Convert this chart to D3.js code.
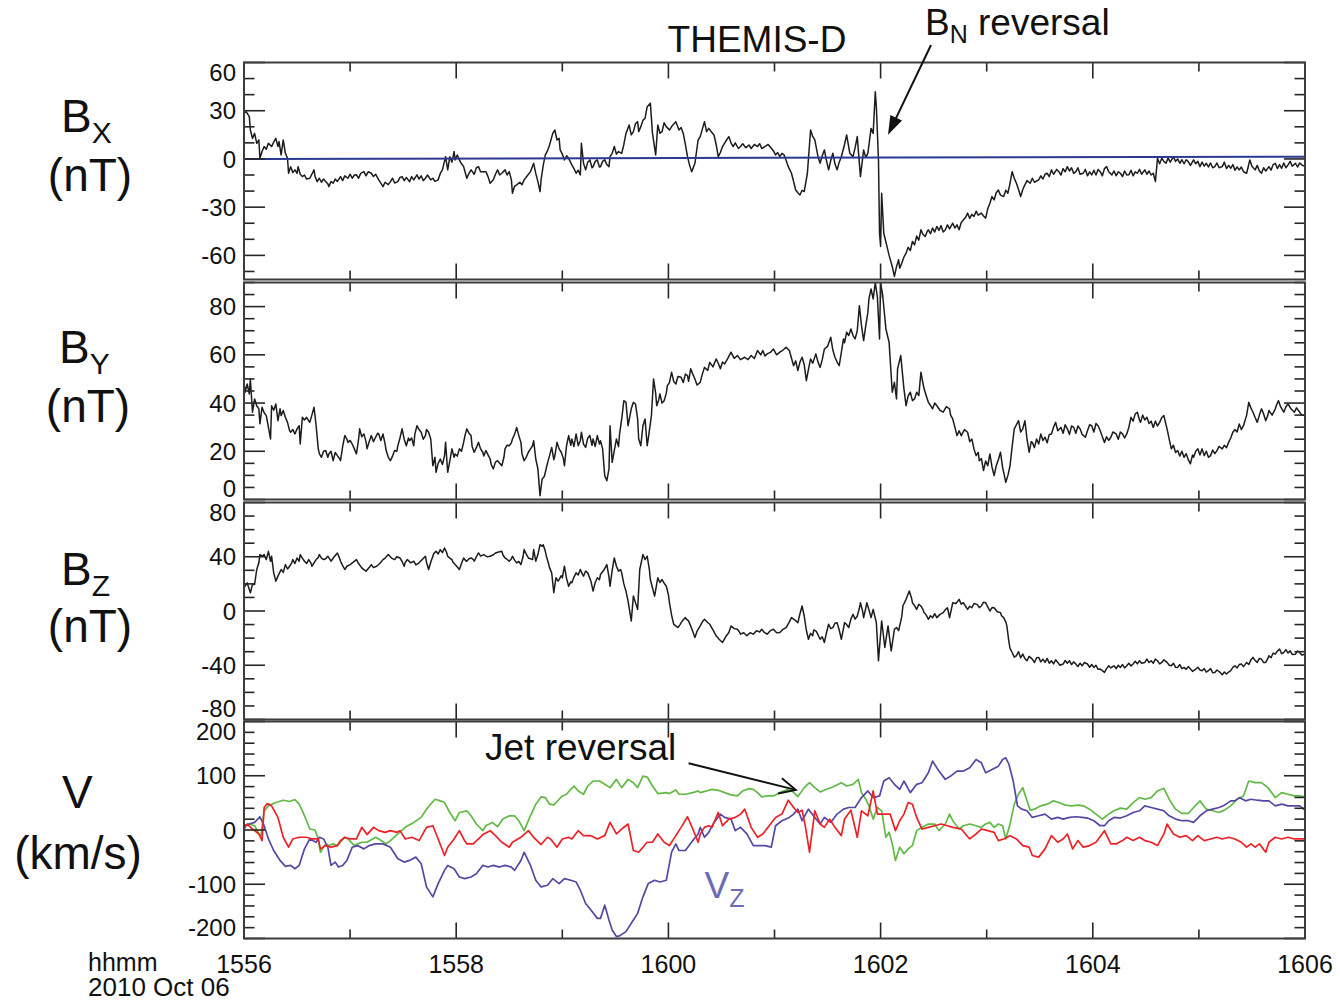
<!DOCTYPE html>
<html><head><meta charset="utf-8">
<script src="https://cdn.jsdelivr.net/npm/d3@7"></script>
<style>
html,body{margin:0;padding:0;background:#fff;}
svg text{font-family:"Liberation Sans",Arial,Helvetica,sans-serif;fill:#111;}
</style></head><body>
<svg id="chart" width="1340" height="1001"></svg>
<script>
// Time in minutes after 15:56 UT on 2010 Oct 06
const timeMajor = [0, 2, 4, 6, 8, 10];
const timeMinor = [1, 3, 5, 7, 9];
const timeLabels = ["1556", "1558", "1600", "1602", "1604", "1606"];

// Magnetic field components (nT), [minute, value]
const bx = [[0.00,28.4],[0.02,29.4],[0.05,26.3],[0.06,18.0],[0.08,12.8],[0.10,15.9],[0.12,9.7],[0.14,11.8],[0.15,0.4],[0.17,4.6],[0.19,7.7],[0.21,6.0],[0.23,9.7],[0.26,7.7],[0.28,10.5],[0.30,12.8],[0.32,7.7],[0.33,10.8],[0.35,2.5],[0.37,11.8],[0.39,3.5],[0.41,0.4],[0.42,-8.9],[0.44,-4.8],[0.46,-8.5],[0.48,-6.8],[0.50,-9.0],[0.51,-4.8],[0.53,-9.5],[0.55,-11.0],[0.57,-10.0],[0.59,-12.5],[0.62,-12.0],[0.64,-9.5],[0.66,-6.8],[0.67,-11.0],[0.69,-14.1],[0.71,-12.0],[0.73,-14.5],[0.75,-12.5],[0.77,-14.1],[0.79,-15.5],[0.80,-17.2],[0.82,-14.0],[0.84,-15.1],[0.86,-12.5],[0.88,-14.0],[0.91,-11.0],[0.93,-13.5],[0.95,-10.5],[0.98,-12.0],[1.00,-9.5],[1.02,-12.0],[1.04,-10.0],[1.06,-9.9],[1.08,-12.0],[1.10,-9.0],[1.13,-7.9],[1.15,-10.5],[1.17,-8.0],[1.20,-8.9],[1.22,-11.0],[1.24,-9.5],[1.27,-13.0],[1.29,-15.0],[1.31,-17.2],[1.33,-14.5],[1.36,-16.0],[1.38,-14.1],[1.40,-12.0],[1.42,-15.0],[1.45,-14.1],[1.47,-11.5],[1.49,-11.0],[1.51,-13.5],[1.53,-11.5],[1.56,-14.1],[1.58,-11.0],[1.60,-13.0],[1.63,-9.9],[1.65,-12.5],[1.67,-10.5],[1.69,-13.5],[1.71,-12.0],[1.73,-10.0],[1.76,-13.0],[1.78,-12.0],[1.80,-14.0],[1.83,-13.0],[1.85,-9.0],[1.87,-6.8],[1.90,1.4],[1.92,-6.8],[1.94,1.4],[1.96,-2.0],[1.98,4.6],[1.99,-0.6],[2.01,2.5],[2.03,-0.6],[2.05,-3.0],[2.07,-4.8],[2.10,-12.0],[2.12,-9.0],[2.14,-6.8],[2.17,-9.5],[2.19,-5.5],[2.21,-4.8],[2.23,-8.0],[2.25,-7.9],[2.28,-7.9],[2.30,-11.0],[2.32,-15.1],[2.35,-13.0],[2.37,-9.5],[2.39,-6.8],[2.41,-10.0],[2.43,-8.9],[2.46,-6.8],[2.48,-10.0],[2.50,-7.9],[2.52,-13.0],[2.53,-21.3],[2.55,-17.0],[2.57,-16.1],[2.60,-14.5],[2.62,-16.0],[2.64,-13.0],[2.67,-10.5],[2.70,-7.9],[2.73,-2.7],[2.75,-9.0],[2.77,-14.1],[2.79,-20.3],[2.80,-13.0],[2.82,-4.0],[2.84,2.5],[2.86,5.0],[2.88,8.7],[2.91,15.9],[2.93,18.0],[2.95,11.8],[2.97,12.8],[2.98,5.6],[3.00,3.0],[3.02,-0.6],[3.04,2.0],[3.06,0.4],[3.09,-3.7],[3.11,-6.0],[3.13,-8.9],[3.15,-7.0],[3.17,-9.9],[3.18,9.7],[3.20,-2.7],[3.22,-6.8],[3.24,-2.0],[3.26,-0.6],[3.28,-5.5],[3.29,-4.8],[3.31,-1.5],[3.33,-0.6],[3.35,-5.0],[3.36,-4.8],[3.38,-1.5],[3.40,-0.6],[3.42,-3.5],[3.44,-4.8],[3.45,1.4],[3.47,3.5],[3.49,7.7],[3.51,3.0],[3.53,4.6],[3.56,3.5],[3.58,9.0],[3.60,15.9],[3.63,21.1],[3.65,15.0],[3.67,17.0],[3.69,22.0],[3.71,23.2],[3.72,17.0],[3.74,20.1],[3.76,24.0],[3.78,25.3],[3.80,32.5],[3.83,34.6],[3.85,15.9],[3.88,2.5],[3.90,21.1],[3.92,16.0],[3.94,17.0],[3.96,22.5],[3.98,20.1],[4.01,18.0],[4.04,21.0],[4.07,23.2],[4.10,18.0],[4.12,19.5],[4.14,15.9],[4.16,9.0],[4.18,1.4],[4.20,-4.0],[4.22,-7.9],[4.25,-2.7],[4.28,11.8],[4.30,13.9],[4.34,23.2],[4.36,17.0],[4.38,19.0],[4.41,16.5],[4.43,14.9],[4.45,9.0],[4.47,1.4],[4.49,4.0],[4.51,7.7],[4.54,11.0],[4.57,13.9],[4.59,10.0],[4.61,7.7],[4.63,10.0],[4.66,6.5],[4.68,7.7],[4.70,9.5],[4.73,7.0],[4.76,8.7],[4.78,6.5],[4.81,9.0],[4.84,7.7],[4.86,9.5],[4.88,6.5],[4.91,7.7],[4.94,9.0],[4.97,6.6],[4.99,5.0],[5.01,2.5],[5.03,4.0],[5.05,1.4],[5.07,3.5],[5.09,2.5],[5.11,-1.0],[5.13,-4.8],[5.16,-8.9],[5.18,-14.0],[5.20,-19.3],[5.22,-21.0],[5.24,-22.4],[5.26,-19.5],[5.28,-20.3],[5.31,-8.9],[5.34,18.0],[5.36,14.0],[5.38,11.8],[5.41,1.4],[5.43,-2.7],[5.45,2.0],[5.47,5.6],[5.49,-1.0],[5.51,-6.8],[5.53,-1.0],[5.55,3.5],[5.57,-3.0],[5.59,-6.8],[5.61,-2.0],[5.63,1.4],[5.66,9.0],[5.68,14.9],[5.71,3.5],[5.74,1.4],[5.76,7.0],[5.78,13.9],[5.81,-11.0],[5.84,5.6],[5.86,1.0],[5.88,3.5],[5.91,19.0],[5.93,15.9],[5.95,41.8],[5.96,32.5],[5.98,-0.6],[5.99,-46.2],[6.00,-54.4],[6.01,-21.3],[6.03,-46.2],[6.06,-54.4],[6.08,-60.0],[6.11,-66.9],[6.13,-73.1],[6.15,-67.0],[6.17,-62.7],[6.18,-68.0],[6.20,-64.8],[6.22,-61.0],[6.24,-58.6],[6.26,-55.0],[6.28,-57.0],[6.30,-51.3],[6.32,-53.5],[6.34,-48.0],[6.36,-50.5],[6.38,-44.1],[6.40,-47.0],[6.42,-48.2],[6.44,-45.0],[6.45,-44.1],[6.47,-46.5],[6.49,-43.0],[6.51,-45.5],[6.53,-42.0],[6.55,-44.5],[6.57,-41.5],[6.59,-45.5],[6.61,-44.1],[6.63,-41.0],[6.65,-43.5],[6.68,-40.0],[6.70,-43.0],[6.72,-41.0],[6.74,-44.1],[6.76,-39.5],[6.78,-38.0],[6.80,-36.5],[6.82,-33.7],[6.84,-37.0],[6.86,-34.5],[6.88,-35.8],[6.90,-32.5],[6.92,-35.0],[6.95,-33.7],[6.97,-35.5],[6.99,-36.8],[7.01,-31.0],[7.03,-27.5],[7.05,-23.4],[7.07,-25.5],[7.09,-21.0],[7.11,-19.3],[7.13,-22.5],[7.16,-23.4],[7.18,-19.5],[7.20,-21.3],[7.22,-15.0],[7.24,-7.9],[7.26,-12.0],[7.28,-15.1],[7.30,-19.0],[7.32,-23.4],[7.34,-19.0],[7.36,-16.1],[7.38,-13.5],[7.41,-15.1],[7.43,-12.0],[7.45,-14.5],[7.49,-13.0],[7.51,-10.5],[7.53,-12.5],[7.55,-9.5],[7.57,-8.9],[7.59,-11.0],[7.61,-6.8],[7.63,-9.5],[7.66,-6.5],[7.68,-7.9],[7.70,-10.0],[7.72,-6.0],[7.74,-8.0],[7.76,-4.8],[7.78,-7.5],[7.80,-5.5],[7.82,-9.0],[7.84,-7.9],[7.86,-5.5],[7.88,-9.5],[7.91,-8.9],[7.93,-6.5],[7.95,-10.5],[7.97,-8.0],[7.99,-9.9],[8.01,-7.0],[8.03,-10.0],[8.05,-6.5],[8.07,-7.9],[8.09,-10.5],[8.11,-6.0],[8.13,-4.8],[8.15,-8.0],[8.18,-9.9],[8.20,-7.5],[8.22,-10.5],[8.24,-8.0],[8.26,-8.9],[8.28,-11.0],[8.30,-7.5],[8.32,-10.0],[8.34,-9.9],[8.36,-7.0],[8.38,-10.5],[8.40,-8.0],[8.42,-8.9],[8.44,-6.5],[8.46,-9.5],[8.49,-6.8],[8.51,-9.5],[8.53,-7.5],[8.55,-10.0],[8.57,-8.9],[8.59,-14.1],[8.61,0.4],[8.63,-3.0],[8.65,0.5],[8.67,-1.5],[8.69,-2.7],[8.71,0.5],[8.73,-2.0],[8.76,1.4],[8.78,-1.5],[8.80,0.0],[8.82,-2.7],[8.84,-0.5],[8.86,-3.0],[8.88,-0.5],[8.90,-1.7],[8.92,-4.0],[8.95,-0.6],[8.97,-3.0],[8.99,-1.5],[9.01,-4.8],[9.03,-2.0],[9.05,-4.5],[9.07,-2.7],[9.09,-5.0],[9.11,-2.5],[9.13,-5.5],[9.15,-4.8],[9.17,-2.5],[9.19,-5.5],[9.22,-4.8],[9.24,-2.0],[9.26,-6.0],[9.28,-4.0],[9.30,-5.8],[9.32,-3.5],[9.34,-7.0],[9.36,-5.0],[9.38,-6.8],[9.40,-5.0],[9.42,-8.0],[9.45,-8.9],[9.48,-0.6],[9.50,-4.5],[9.53,-6.8],[9.55,-4.0],[9.57,-7.5],[9.59,-8.9],[9.61,-5.5],[9.63,-7.5],[9.66,-4.8],[9.68,-7.0],[9.70,-3.5],[9.72,-2.7],[9.74,-6.0],[9.76,-3.5],[9.78,-5.8],[9.80,-2.5],[9.82,-5.5],[9.84,-3.7],[9.86,-1.5],[9.88,-4.5],[9.91,-2.7],[9.93,-5.0],[9.95,-2.5],[9.97,-3.7],[10.00,-4.8]];
const bxBaseline = [[0, 0.0], [10, 1.4]];

const by = [[0.00,48.6],[0.01,44.5],[0.03,47.9],[0.05,43.8],[0.06,50.0],[0.08,36.2],[0.10,41.7],[0.12,38.9],[0.14,37.6],[0.15,31.4],[0.17,38.3],[0.19,36.0],[0.21,34.8],[0.23,30.0],[0.25,25.1],[0.26,38.9],[0.28,37.0],[0.30,39.6],[0.32,32.7],[0.34,37.6],[0.35,34.8],[0.37,36.9],[0.39,34.1],[0.41,32.0],[0.43,28.5],[0.44,27.9],[0.46,29.0],[0.48,27.2],[0.50,29.3],[0.52,30.6],[0.53,23.0],[0.55,34.1],[0.57,33.0],[0.59,34.1],[0.62,32.0],[0.64,35.0],[0.66,38.3],[0.68,30.6],[0.70,21.0],[0.71,19.0],[0.73,17.5],[0.75,20.0],[0.77,20.3],[0.79,17.5],[0.80,18.9],[0.82,20.0],[0.84,16.1],[0.86,19.5],[0.88,18.2],[0.90,17.0],[0.91,16.1],[0.93,22.0],[0.95,26.5],[0.97,25.0],[0.98,23.7],[1.00,24.5],[1.02,23.0],[1.04,21.0],[1.06,18.9],[1.08,25.0],[1.09,29.3],[1.11,26.0],[1.13,27.2],[1.15,24.0],[1.16,21.0],[1.18,24.0],[1.20,26.5],[1.22,24.0],[1.24,25.8],[1.26,27.5],[1.27,27.2],[1.29,24.5],[1.31,27.2],[1.33,23.0],[1.34,20.3],[1.36,17.5],[1.38,16.1],[1.40,18.0],[1.42,20.3],[1.44,20.0],[1.45,22.3],[1.47,25.5],[1.49,29.3],[1.51,25.0],[1.53,22.3],[1.55,25.5],[1.56,24.4],[1.58,25.5],[1.60,22.3],[1.61,27.0],[1.63,30.6],[1.65,29.0],[1.67,27.9],[1.69,25.0],[1.71,26.5],[1.72,29.0],[1.74,27.9],[1.76,25.1],[1.78,14.0],[1.80,17.5],[1.81,11.3],[1.83,15.0],[1.85,16.8],[1.87,14.5],[1.89,18.2],[1.90,23.7],[1.92,11.3],[1.94,16.0],[1.96,21.0],[1.98,17.5],[1.99,18.9],[2.01,18.0],[2.03,21.0],[2.05,20.0],[2.07,23.7],[2.08,26.0],[2.10,29.3],[2.12,27.5],[2.14,26.5],[2.15,22.0],[2.17,19.6],[2.19,21.5],[2.21,23.7],[2.23,21.0],[2.25,19.6],[2.26,18.0],[2.28,20.3],[2.30,18.5],[2.32,16.8],[2.33,14.5],[2.35,12.7],[2.37,15.5],[2.39,16.1],[2.41,15.0],[2.43,14.0],[2.45,17.5],[2.46,21.0],[2.48,22.5],[2.50,22.3],[2.52,23.5],[2.53,25.1],[2.55,27.0],[2.57,29.9],[2.59,26.5],[2.61,23.7],[2.62,19.0],[2.64,16.1],[2.66,17.5],[2.68,19.6],[2.70,21.0],[2.72,22.3],[2.73,24.4],[2.75,16.8],[2.77,12.7],[2.79,1.6],[2.81,8.5],[2.83,9.5],[2.84,11.3],[2.86,15.0],[2.88,18.2],[2.90,21.6],[2.92,16.5],[2.93,18.2],[2.95,23.7],[2.97,21.0],[2.99,19.6],[3.01,17.0],[3.02,14.0],[3.04,22.3],[3.06,26.5],[3.08,22.5],[3.09,25.1],[3.11,22.0],[3.13,27.2],[3.15,22.3],[3.17,24.5],[3.18,27.9],[3.20,23.0],[3.22,21.6],[3.24,25.5],[3.26,26.5],[3.28,22.5],[3.29,25.1],[3.31,22.0],[3.33,26.5],[3.35,23.0],[3.36,24.4],[3.38,21.0],[3.40,9.9],[3.42,7.8],[3.44,12.7],[3.45,30.6],[3.47,15.4],[3.49,20.3],[3.51,25.1],[3.53,22.0],[3.54,27.2],[3.56,33.4],[3.58,41.0],[3.60,40.3],[3.62,30.6],[3.65,37.6],[3.67,40.3],[3.69,39.6],[3.71,33.4],[3.72,25.1],[3.74,22.3],[3.76,30.6],[3.78,33.4],[3.80,22.3],[3.81,25.1],[3.84,34.8],[3.86,50.0],[3.88,44.0],[3.89,38.9],[3.91,41.5],[3.92,43.8],[3.94,40.0],[3.96,41.0],[3.98,44.0],[3.99,47.2],[4.01,48.5],[4.03,52.8],[4.05,49.0],[4.07,47.9],[4.09,51.0],[4.12,50.7],[4.14,48.5],[4.16,52.0],[4.18,51.4],[4.19,49.0],[4.21,54.2],[4.23,52.0],[4.25,50.0],[4.27,47.5],[4.30,48.6],[4.32,52.0],[4.34,54.8],[4.37,53.5],[4.39,56.9],[4.42,55.0],[4.45,58.3],[4.47,56.5],[4.49,54.2],[4.51,57.0],[4.53,56.2],[4.56,58.5],[4.59,61.1],[4.62,58.5],[4.65,59.7],[4.68,58.0],[4.72,59.0],[4.75,58.0],[4.78,59.7],[4.81,58.5],[4.84,61.8],[4.87,60.0],[4.89,61.8],[4.91,59.5],[4.93,60.4],[4.96,61.0],[4.99,62.4],[5.02,60.0],[5.05,61.1],[5.08,62.0],[5.11,63.1],[5.14,61.8],[5.18,55.5],[5.20,57.5],[5.22,53.5],[5.24,57.0],[5.26,59.0],[5.28,56.0],[5.30,49.3],[5.32,54.0],[5.34,58.3],[5.36,56.5],[5.39,60.4],[5.41,57.0],[5.43,54.8],[5.45,58.0],[5.47,62.4],[5.50,63.5],[5.53,67.3],[5.55,62.0],[5.57,59.0],[5.59,57.0],[5.61,55.5],[5.63,61.0],[5.65,66.6],[5.66,65.0],[5.68,69.4],[5.70,68.0],[5.72,70.7],[5.74,68.0],[5.76,66.6],[5.78,70.0],[5.80,80.4],[5.82,72.1],[5.84,65.9],[5.86,72.0],[5.88,77.6],[5.89,83.2],[5.91,87.3],[5.93,83.2],[5.95,90.0],[5.97,83.9],[5.99,66.6],[6.00,90.0],[6.02,84.6],[6.05,70.7],[6.08,65.2],[6.11,44.5],[6.13,48.6],[6.15,41.7],[6.16,54.2],[6.19,59.7],[6.22,45.9],[6.24,38.9],[6.26,43.0],[6.28,44.5],[6.30,41.0],[6.32,41.7],[6.34,44.5],[6.36,43.1],[6.38,52.8],[6.40,48.0],[6.41,45.9],[6.43,43.0],[6.45,40.3],[6.47,39.0],[6.49,37.6],[6.51,40.0],[6.53,38.9],[6.56,37.0],[6.59,36.2],[6.62,38.5],[6.65,37.6],[6.66,35.0],[6.68,33.4],[6.70,30.0],[6.72,26.5],[6.74,28.5],[6.76,26.5],[6.79,29.0],[6.82,27.9],[6.84,24.0],[6.86,25.1],[6.88,21.0],[6.90,18.2],[6.92,19.5],[6.93,16.1],[6.95,17.0],[6.97,12.0],[6.99,16.0],[7.01,14.0],[7.03,18.9],[7.05,13.5],[7.07,9.9],[7.09,14.0],[7.11,16.5],[7.13,19.6],[7.15,13.3],[7.18,7.1],[7.20,10.0],[7.22,14.0],[7.24,22.0],[7.26,29.3],[7.28,31.0],[7.30,32.7],[7.32,28.0],[7.34,29.3],[7.36,32.7],[7.38,25.0],[7.40,19.6],[7.42,24.0],[7.43,23.7],[7.45,21.5],[7.47,25.1],[7.49,23.0],[7.51,27.2],[7.53,24.5],[7.55,25.8],[7.57,23.5],[7.59,27.0],[7.61,27.2],[7.63,30.0],[7.65,32.0],[7.67,28.5],[7.70,29.9],[7.72,27.5],[7.74,31.0],[7.76,29.3],[7.78,27.0],[7.80,30.5],[7.82,29.9],[7.84,27.5],[7.86,30.5],[7.88,29.3],[7.90,27.0],[7.93,25.8],[7.95,28.5],[7.97,31.0],[7.99,30.6],[8.01,28.0],[8.03,31.5],[8.05,30.6],[8.07,28.5],[8.09,26.0],[8.11,23.7],[8.13,26.0],[8.15,24.5],[8.17,25.8],[8.19,28.0],[8.22,27.2],[8.24,25.0],[8.26,28.0],[8.28,27.2],[8.30,25.5],[8.32,27.2],[8.34,30.0],[8.36,34.1],[8.38,32.5],[8.40,35.5],[8.42,36.2],[8.44,33.0],[8.45,32.0],[8.47,35.0],[8.49,33.0],[8.51,34.1],[8.53,31.5],[8.55,32.5],[8.57,29.9],[8.59,32.5],[8.61,30.5],[8.63,32.0],[8.65,34.0],[8.67,34.8],[8.69,31.0],[8.70,29.3],[8.72,25.0],[8.74,21.0],[8.76,22.5],[8.78,19.5],[8.80,20.3],[8.82,18.0],[8.84,20.0],[8.86,17.5],[8.88,19.0],[8.90,16.5],[8.92,14.8],[8.94,18.5],[8.95,17.5],[8.97,20.0],[8.99,21.0],[9.01,18.5],[9.03,21.0],[9.05,18.2],[9.07,20.0],[9.09,17.5],[9.11,18.2],[9.13,20.5],[9.15,19.0],[9.17,20.3],[9.19,22.0],[9.22,21.0],[9.24,22.5],[9.26,21.5],[9.28,23.7],[9.30,25.5],[9.32,27.9],[9.34,29.0],[9.36,28.0],[9.38,31.3],[9.40,29.0],[9.42,30.6],[9.45,35.0],[9.47,40.3],[9.49,38.0],[9.51,36.2],[9.53,34.0],[9.55,32.0],[9.57,35.0],[9.59,37.6],[9.61,35.5],[9.63,32.7],[9.65,35.0],[9.66,36.9],[9.69,35.0],[9.72,37.6],[9.73,39.0],[9.75,41.0],[9.77,38.5],[9.80,36.2],[9.82,38.5],[9.84,39.6],[9.87,37.5],[9.90,36.2],[9.92,38.0],[9.95,36.2],[9.97,35.0],[10.00,34.8]];

const bz = [[0.00,20.8],[0.01,18.3],[0.03,20.8],[0.05,15.9],[0.06,13.5],[0.08,19.6],[0.10,19.6],[0.12,30.6],[0.14,35.5],[0.15,41.6],[0.17,40.4],[0.19,41.6],[0.21,37.9],[0.23,44.0],[0.25,36.7],[0.26,40.4],[0.28,28.1],[0.30,22.0],[0.32,25.7],[0.35,30.6],[0.37,28.5],[0.39,34.2],[0.41,31.0],[0.43,33.0],[0.45,35.5],[0.46,37.9],[0.48,35.0],[0.50,39.1],[0.52,36.7],[0.53,41.6],[0.55,39.0],[0.57,36.7],[0.59,35.0],[0.61,37.9],[0.63,35.5],[0.64,33.0],[0.66,35.5],[0.68,37.9],[0.70,39.5],[0.71,41.6],[0.73,39.0],[0.75,37.9],[0.77,38.5],[0.79,40.4],[0.81,38.0],[0.82,36.7],[0.85,40.0],[0.88,42.8],[0.90,39.0],[0.91,36.7],[0.93,33.5],[0.95,30.6],[0.97,33.0],[1.00,34.2],[1.03,36.0],[1.06,37.9],[1.08,35.0],[1.11,31.8],[1.13,30.5],[1.15,29.4],[1.18,32.0],[1.20,34.2],[1.22,32.0],[1.25,33.0],[1.28,35.0],[1.31,37.9],[1.33,39.0],[1.36,41.6],[1.39,39.0],[1.42,37.9],[1.44,40.0],[1.47,39.1],[1.49,36.5],[1.51,33.0],[1.52,36.0],[1.54,37.9],[1.57,35.5],[1.60,36.7],[1.62,34.0],[1.65,35.5],[1.68,38.0],[1.71,40.4],[1.72,36.0],[1.74,30.6],[1.76,36.0],[1.78,40.4],[1.79,42.5],[1.81,44.0],[1.83,42.0],[1.85,45.3],[1.87,43.0],[1.89,46.5],[1.91,43.0],[1.92,40.4],[1.94,39.0],[1.96,37.9],[1.97,36.0],[1.99,34.2],[2.01,32.5],[2.03,30.6],[2.05,35.0],[2.07,39.1],[2.09,37.0],[2.10,36.7],[2.12,38.5],[2.14,39.1],[2.16,38.0],[2.17,36.7],[2.19,40.0],[2.21,42.8],[2.23,40.5],[2.26,41.6],[2.29,40.0],[2.32,40.4],[2.35,41.5],[2.37,42.8],[2.40,43.5],[2.43,44.0],[2.44,41.5],[2.46,39.1],[2.48,38.0],[2.50,36.7],[2.52,38.5],[2.53,40.4],[2.55,37.5],[2.57,35.5],[2.59,36.5],[2.61,34.2],[2.63,40.0],[2.64,45.3],[2.66,42.0],[2.68,39.1],[2.70,38.5],[2.72,37.9],[2.73,45.3],[2.75,36.7],[2.77,41.6],[2.79,48.9],[2.81,47.7],[2.82,48.9],[2.84,44.0],[2.85,40.4],[2.87,35.0],[2.88,31.8],[2.90,28.1],[2.92,13.5],[2.94,24.5],[2.96,22.0],[2.97,23.2],[2.99,26.0],[3.00,24.5],[3.02,33.0],[3.04,24.0],[3.06,18.3],[3.08,21.5],[3.09,20.8],[3.11,25.0],[3.13,28.1],[3.15,26.5],[3.17,30.6],[3.19,27.0],[3.20,25.7],[3.22,29.5],[3.24,28.1],[3.26,24.0],[3.27,22.0],[3.29,14.7],[3.31,21.0],[3.33,24.5],[3.35,23.0],[3.36,26.9],[3.39,30.0],[3.42,34.2],[3.44,25.0],[3.45,18.3],[3.47,30.0],[3.49,39.1],[3.51,33.0],[3.53,29.4],[3.55,30.5],[3.56,28.1],[3.58,20.0],[3.60,14.7],[3.62,7.3],[3.65,-7.3],[3.67,11.0],[3.69,6.0],[3.71,1.2],[3.73,30.6],[3.76,41.6],[3.78,37.9],[3.80,40.4],[3.82,31.0],[3.83,23.2],[3.85,17.0],[3.87,11.0],[3.89,20.0],[3.90,24.5],[3.92,21.0],[3.94,23.2],[3.96,20.5],[3.98,18.3],[4.00,12.0],[4.01,6.1],[4.03,-3.0],[4.05,-9.8],[4.07,-11.0],[4.09,-12.2],[4.11,-10.0],[4.12,-8.6],[4.14,-6.5],[4.16,-4.9],[4.17,-6.0],[4.19,-7.3],[4.22,-13.0],[4.25,-19.6],[4.27,-15.0],[4.28,-13.5],[4.30,-11.0],[4.32,-8.0],[4.34,-6.1],[4.37,-8.5],[4.39,-9.8],[4.42,-14.0],[4.45,-18.3],[4.48,-21.0],[4.51,-23.2],[4.54,-19.0],[4.57,-15.9],[4.59,-11.0],[4.62,-13.0],[4.65,-13.5],[4.67,-15.5],[4.68,-17.1],[4.71,-16.0],[4.74,-18.3],[4.77,-16.0],[4.80,-17.1],[4.83,-14.5],[4.86,-15.5],[4.88,-13.5],[4.90,-15.5],[4.93,-17.1],[4.96,-14.5],[4.99,-13.5],[5.02,-16.0],[5.05,-15.9],[5.08,-13.5],[5.11,-12.2],[5.14,-8.0],[5.16,-4.9],[5.19,-6.5],[5.22,-8.6],[5.24,-2.0],[5.26,3.7],[5.28,-3.7],[5.30,-14.0],[5.32,-20.8],[5.34,-16.5],[5.36,-18.3],[5.37,-14.0],[5.39,-14.7],[5.41,-17.5],[5.43,-20.8],[5.45,-19.0],[5.47,-23.2],[5.49,-16.0],[5.51,-9.8],[5.53,-13.0],[5.55,-12.2],[5.57,-9.0],[5.59,-8.6],[5.61,-14.0],[5.63,-20.8],[5.65,-13.0],[5.66,-8.6],[5.68,-10.0],[5.70,-12.2],[5.72,-6.0],[5.74,-2.4],[5.76,-6.0],[5.78,-3.7],[5.80,2.0],[5.81,6.1],[5.83,0.0],[5.84,-4.9],[5.86,2.0],[5.87,6.1],[5.89,1.0],[5.91,-4.9],[5.93,1.2],[5.96,-8.6],[5.98,-36.7],[6.01,-7.3],[6.04,-26.9],[6.07,-11.0],[6.10,-29.4],[6.13,-13.5],[6.15,-12.2],[6.17,-14.5],[6.18,-11.0],[6.20,-4.0],[6.21,3.7],[6.24,8.6],[6.27,14.7],[6.29,10.0],[6.30,6.1],[6.32,4.0],[6.34,1.2],[6.36,5.0],[6.38,3.7],[6.40,1.0],[6.41,-1.2],[6.43,-3.0],[6.45,-6.1],[6.47,-3.5],[6.49,-4.9],[6.51,-2.0],[6.53,-4.9],[6.56,-2.5],[6.59,-1.2],[6.61,1.0],[6.63,2.4],[6.65,-4.9],[6.68,6.1],[6.71,5.5],[6.74,8.6],[6.76,5.0],[6.78,6.1],[6.80,3.5],[6.82,1.2],[6.84,3.5],[6.86,2.4],[6.88,5.5],[6.91,4.9],[6.93,2.5],[6.95,3.7],[6.97,6.5],[6.99,6.1],[7.01,3.0],[7.03,0.0],[7.05,2.5],[7.07,2.4],[7.10,-0.5],[7.13,-1.2],[7.14,-3.5],[7.16,-4.9],[7.18,-8.0],[7.19,-11.0],[7.21,-23.2],[7.22,-27.5],[7.24,-30.6],[7.26,-34.0],[7.28,-33.0],[7.30,-30.0],[7.32,-34.5],[7.34,-31.8],[7.36,-35.0],[7.38,-36.7],[7.40,-33.5],[7.43,-35.5],[7.45,-38.0],[7.47,-34.5],[7.49,-34.2],[7.51,-37.5],[7.53,-35.5],[7.55,-37.9],[7.57,-35.0],[7.59,-38.5],[7.61,-36.7],[7.63,-39.0],[7.65,-36.0],[7.67,-37.9],[7.69,-40.0],[7.72,-39.1],[7.74,-36.5],[7.76,-38.5],[7.78,-36.7],[7.80,-39.5],[7.82,-37.5],[7.84,-39.1],[7.86,-41.0],[7.88,-38.5],[7.90,-40.4],[7.92,-38.0],[7.95,-39.1],[7.97,-41.5],[7.99,-39.5],[8.01,-41.6],[8.03,-40.0],[8.05,-43.0],[8.07,-42.8],[8.09,-44.0],[8.11,-45.3],[8.13,-42.5],[8.15,-40.4],[8.17,-42.0],[8.20,-40.4],[8.22,-42.5],[8.24,-40.0],[8.26,-41.6],[8.28,-39.5],[8.30,-42.0],[8.32,-40.4],[8.34,-38.5],[8.36,-40.5],[8.38,-39.1],[8.40,-37.0],[8.42,-39.0],[8.44,-36.7],[8.46,-38.5],[8.49,-37.9],[8.51,-35.5],[8.53,-38.0],[8.55,-36.7],[8.57,-38.5],[8.59,-35.5],[8.61,-36.7],[8.63,-39.0],[8.65,-37.9],[8.67,-36.0],[8.70,-37.9],[8.72,-40.0],[8.74,-40.4],[8.76,-38.5],[8.78,-41.5],[8.80,-41.6],[8.82,-39.5],[8.84,-42.5],[8.86,-41.6],[8.88,-43.0],[8.90,-41.0],[8.92,-42.8],[8.94,-44.5],[8.97,-42.8],[8.99,-41.5],[9.01,-43.5],[9.03,-44.0],[9.05,-42.5],[9.07,-45.0],[9.09,-44.0],[9.11,-42.5],[9.13,-45.5],[9.15,-45.3],[9.17,-43.5],[9.20,-45.3],[9.22,-47.0],[9.24,-45.0],[9.26,-46.5],[9.28,-45.0],[9.30,-44.0],[9.32,-41.5],[9.34,-40.4],[9.36,-42.0],[9.38,-39.5],[9.40,-39.1],[9.42,-41.0],[9.45,-37.9],[9.47,-39.5],[9.49,-36.0],[9.51,-34.2],[9.53,-36.5],[9.55,-37.9],[9.57,-35.0],[9.59,-35.5],[9.61,-38.0],[9.63,-37.9],[9.65,-35.0],[9.66,-33.0],[9.68,-34.5],[9.70,-31.0],[9.72,-31.8],[9.74,-29.5],[9.76,-28.1],[9.78,-31.5],[9.80,-30.6],[9.82,-28.5],[9.84,-31.0],[9.86,-29.4],[9.88,-32.0],[9.91,-31.8],[9.93,-29.5],[9.95,-30.6],[9.97,-32.5],[10.00,-31.8]];

// Ion velocity components (km/s), [minute, value]
const vx = [[0.00,7.9],[0.05,11.0],[0.10,7.9],[0.14,-7.3],[0.16,-10.4],[0.19,35.0],[0.23,44.5],[0.30,50.6],[0.37,54.9],[0.43,52.5],[0.48,56.1],[0.52,47.6],[0.55,35.4],[0.59,17.1],[0.62,1.8],[0.67,0.0],[0.70,-16.5],[0.72,-40.9],[0.77,-25.6],[0.80,-28.7],[0.84,-25.6],[0.88,-28.7],[0.95,-13.4],[0.98,-16.5],[1.04,-28.7],[1.07,-25.6],[1.11,-22.6],[1.16,-22.6],[1.24,-13.4],[1.27,-16.5],[1.34,-25.6],[1.38,-19.5],[1.45,-7.3],[1.52,4.9],[1.60,14.0],[1.67,23.2],[1.72,38.4],[1.80,56.7],[1.85,53.7],[1.89,50.6],[1.94,32.3],[1.99,17.1],[2.03,32.3],[2.10,35.4],[2.14,26.2],[2.19,11.0],[2.25,-1.2],[2.28,7.9],[2.34,14.0],[2.39,6.1],[2.44,20.1],[2.50,26.2],[2.55,26.2],[2.59,17.1],[2.64,-1.2],[2.70,26.2],[2.75,47.6],[2.80,61.0],[2.84,59.8],[2.88,47.6],[2.92,46.4],[2.97,56.7],[3.00,62.8],[3.04,65.9],[3.08,75.0],[3.11,81.1],[3.15,72.0],[3.20,65.9],[3.24,81.1],[3.29,90.3],[3.35,90.3],[3.40,84.2],[3.45,78.1],[3.51,93.3],[3.56,78.1],[3.62,93.3],[3.67,87.2],[3.71,78.1],[3.76,99.4],[3.80,97.6],[3.85,81.1],[3.90,67.1],[3.98,68.9],[4.01,67.1],[4.07,73.8],[4.10,65.9],[4.16,65.9],[4.23,68.9],[4.28,72.0],[4.30,68.9],[4.36,72.0],[4.41,75.0],[4.47,73.2],[4.53,68.9],[4.59,64.7],[4.65,62.8],[4.70,72.0],[4.76,76.3],[4.80,75.0],[4.84,68.9],[4.88,61.0],[4.93,62.8],[4.99,62.8],[5.05,68.9],[5.11,73.8],[5.16,73.2],[5.22,61.6],[5.28,78.1],[5.33,87.2],[5.38,78.1],[5.43,70.2],[5.49,75.0],[5.55,79.3],[5.63,87.2],[5.68,81.1],[5.74,84.2],[5.79,93.3],[5.82,68.9],[5.86,56.7],[5.89,44.5],[5.93,20.1],[5.97,41.5],[6.01,35.4],[6.05,-13.4],[6.08,-4.3],[6.11,-25.6],[6.14,-56.1],[6.18,-31.7],[6.22,-43.9],[6.26,-34.8],[6.30,-28.7],[6.34,-1.2],[6.39,4.9],[6.45,11.0],[6.51,11.0],[6.55,-1.2],[6.61,11.0],[6.65,29.3],[6.68,17.1],[6.74,1.8],[6.78,7.9],[6.84,11.0],[6.90,7.9],[6.95,4.9],[6.99,11.0],[7.03,14.0],[7.07,4.9],[7.11,11.0],[7.15,7.9],[7.18,-16.5],[7.22,11.0],[7.26,47.6],[7.30,65.9],[7.34,78.1],[7.37,59.8],[7.41,36.6],[7.45,38.4],[7.51,44.5],[7.57,47.6],[7.63,53.7],[7.68,50.6],[7.74,45.8],[7.80,44.5],[7.86,45.8],[7.91,44.5],[7.97,38.4],[8.03,29.3],[8.09,20.1],[8.15,29.3],[8.20,35.4],[8.26,40.3],[8.32,38.4],[8.38,50.6],[8.44,59.8],[8.49,56.7],[8.55,59.8],[8.61,72.0],[8.67,76.9],[8.72,56.7],[8.78,38.4],[8.84,30.5],[8.90,30.5],[8.95,41.5],[9.01,53.7],[9.07,38.4],[9.13,35.4],[9.19,32.3],[9.24,36.6],[9.30,44.5],[9.36,56.7],[9.42,62.8],[9.47,90.3],[9.53,87.2],[9.59,87.2],[9.65,78.1],[9.72,59.8],[9.78,68.9],[9.84,65.9],[9.90,62.8],[9.95,62.8],[10.00,61.0]];

const vy = [[0.00,1.8],[0.03,11.0],[0.08,1.8],[0.14,-7.3],[0.17,-19.5],[0.19,41.5],[0.22,48.8],[0.26,44.5],[0.32,23.2],[0.37,-13.4],[0.42,-31.7],[0.46,-16.5],[0.52,-13.4],[0.59,-13.4],[0.64,-16.5],[0.70,-16.5],[0.72,-34.8],[0.77,-28.7],[0.82,-31.7],[0.88,-28.7],[0.91,-19.5],[0.95,-13.4],[1.00,-16.5],[1.06,-16.5],[1.11,4.9],[1.16,-8.5],[1.22,4.9],[1.27,-1.2],[1.33,-4.3],[1.38,-1.2],[1.44,-4.3],[1.47,-1.2],[1.52,-16.5],[1.58,-13.4],[1.65,-19.5],[1.72,4.9],[1.78,7.9],[1.83,-16.5],[1.89,-47.0],[1.92,-31.7],[1.98,-16.5],[2.03,-1.2],[2.07,-16.5],[2.10,-25.6],[2.16,-25.6],[2.21,-16.5],[2.26,-7.3],[2.32,-1.2],[2.37,-10.4],[2.43,-22.6],[2.50,-31.7],[2.53,-22.6],[2.61,-13.4],[2.68,-1.2],[2.73,-13.4],[2.80,-26.8],[2.86,-13.4],[2.89,-16.5],[2.95,-31.7],[3.00,-16.5],[3.06,-13.4],[3.09,-16.5],[3.15,-1.2],[3.20,-10.4],[3.27,-10.4],[3.33,-16.5],[3.40,-10.4],[3.45,14.0],[3.51,-7.3],[3.56,1.8],[3.62,11.0],[3.67,-37.8],[3.72,-40.9],[3.80,-22.6],[3.85,-22.6],[3.90,-7.3],[3.96,-22.6],[4.01,-28.7],[4.07,-10.4],[4.12,4.9],[4.18,24.4],[4.23,1.8],[4.28,-22.6],[4.30,-7.3],[4.34,4.9],[4.38,7.9],[4.41,4.9],[4.47,32.3],[4.51,7.9],[4.57,20.1],[4.63,23.2],[4.68,29.3],[4.72,38.4],[4.78,4.9],[4.84,-13.4],[4.89,-7.3],[4.95,7.9],[5.01,23.2],[5.07,29.3],[5.13,54.9],[5.18,41.5],[5.22,32.3],[5.26,36.6],[5.29,7.9],[5.33,-40.9],[5.38,35.4],[5.43,11.0],[5.47,4.9],[5.52,20.1],[5.57,4.9],[5.63,-10.4],[5.66,20.1],[5.72,36.6],[5.78,-13.4],[5.82,35.4],[5.88,26.2],[5.93,72.0],[5.97,29.3],[6.03,29.3],[6.09,29.3],[6.14,-1.2],[6.18,17.1],[6.22,29.3],[6.26,50.6],[6.30,47.6],[6.34,23.2],[6.39,1.8],[6.45,4.9],[6.51,7.9],[6.57,11.0],[6.63,7.9],[6.68,4.9],[6.76,1.8],[6.84,-16.5],[6.90,-7.3],[6.95,1.8],[7.01,-1.2],[7.07,-4.3],[7.11,-19.5],[7.16,-16.5],[7.22,-10.4],[7.28,-16.5],[7.34,-28.7],[7.40,-31.7],[7.43,-47.0],[7.49,-50.0],[7.55,-34.8],[7.61,-10.4],[7.67,-22.6],[7.72,-16.5],[7.76,-7.3],[7.81,-34.8],[7.86,-19.5],[7.91,-31.7],[7.97,-28.7],[8.03,-22.6],[8.11,-1.2],[8.17,-25.6],[8.22,-25.6],[8.28,-19.5],[8.32,-13.4],[8.38,-19.5],[8.44,-13.4],[8.49,-19.5],[8.55,-22.6],[8.61,-28.7],[8.67,-7.3],[8.70,11.0],[8.76,-7.3],[8.82,-13.4],[8.88,-10.4],[8.94,-19.5],[8.99,-10.4],[9.05,-19.5],[9.11,-16.5],[9.17,-13.4],[9.22,-16.5],[9.28,-13.4],[9.34,-16.5],[9.40,-22.6],[9.45,-31.7],[9.49,-25.6],[9.53,-31.7],[9.57,-25.6],[9.63,-40.9],[9.66,-22.6],[9.72,-13.4],[9.78,-16.5],[9.84,-13.4],[9.90,-16.5],[9.95,-16.5],[10.00,-16.5]];

const vz = [[0.00,7.9],[0.05,11.0],[0.10,14.0],[0.15,24.4],[0.19,7.9],[0.23,-16.5],[0.28,-37.8],[0.34,-56.1],[0.39,-67.1],[0.44,-65.3],[0.48,-71.4],[0.52,-65.3],[0.57,-34.8],[0.62,-16.5],[0.68,-22.6],[0.71,-13.4],[0.75,-16.5],[0.79,-31.7],[0.82,-65.3],[0.86,-59.2],[0.89,-68.3],[0.93,-65.3],[0.97,-56.1],[1.02,-31.7],[1.07,-28.7],[1.13,-34.8],[1.18,-28.7],[1.24,-25.6],[1.31,-25.6],[1.38,-31.7],[1.45,-53.1],[1.51,-59.2],[1.56,-56.1],[1.62,-50.0],[1.67,-62.2],[1.72,-104.9],[1.78,-123.2],[1.83,-98.8],[1.89,-74.4],[1.92,-65.3],[1.98,-71.4],[2.03,-86.6],[2.08,-89.7],[2.14,-86.6],[2.19,-80.5],[2.25,-65.3],[2.30,-68.3],[2.35,-65.3],[2.41,-68.3],[2.46,-65.3],[2.52,-68.3],[2.55,-74.4],[2.61,-56.1],[2.64,-40.9],[2.70,-65.3],[2.75,-92.7],[2.80,-104.9],[2.86,-101.9],[2.91,-89.7],[2.97,-98.8],[3.02,-89.7],[3.08,-92.7],[3.13,-95.8],[3.17,-111.0],[3.22,-135.4],[3.27,-147.6],[3.33,-162.9],[3.36,-162.9],[3.40,-138.5],[3.44,-165.9],[3.47,-184.2],[3.51,-196.4],[3.54,-195.2],[3.60,-187.3],[3.65,-172.0],[3.71,-153.7],[3.76,-123.2],[3.81,-98.8],[3.87,-92.7],[3.92,-95.8],[3.98,-92.7],[4.03,-40.9],[4.07,-25.6],[4.10,-37.8],[4.16,-37.8],[4.23,-19.5],[4.28,-7.3],[4.30,4.9],[4.34,-13.4],[4.38,-4.3],[4.43,14.0],[4.49,29.3],[4.53,23.2],[4.59,20.1],[4.63,-1.2],[4.68,4.9],[4.74,-7.3],[4.80,-28.7],[4.86,-28.7],[4.91,-28.7],[4.97,-31.7],[5.01,7.9],[5.07,17.1],[5.14,23.2],[5.18,29.3],[5.22,38.4],[5.26,17.1],[5.32,38.4],[5.38,23.2],[5.43,11.0],[5.47,23.2],[5.53,14.0],[5.59,29.3],[5.65,38.4],[5.70,41.5],[5.76,41.5],[5.82,59.8],[5.88,72.0],[5.93,59.8],[5.99,62.8],[6.03,90.3],[6.08,96.4],[6.13,84.2],[6.18,75.0],[6.22,90.3],[6.28,68.9],[6.34,84.2],[6.39,87.2],[6.45,105.5],[6.49,126.9],[6.55,108.6],[6.61,93.3],[6.66,99.4],[6.72,108.6],[6.78,108.6],[6.84,114.7],[6.90,129.9],[6.95,123.8],[6.99,105.5],[7.05,111.6],[7.11,117.7],[7.15,129.9],[7.18,133.0],[7.21,120.8],[7.25,90.3],[7.29,44.5],[7.33,38.4],[7.38,35.4],[7.43,23.2],[7.49,26.2],[7.55,29.3],[7.61,20.1],[7.67,23.2],[7.72,20.1],[7.78,23.2],[7.84,24.4],[7.90,23.2],[7.95,22.0],[8.01,17.1],[8.07,7.9],[8.11,7.9],[8.15,17.1],[8.20,23.2],[8.26,22.0],[8.32,26.2],[8.38,32.3],[8.44,35.4],[8.49,44.5],[8.55,41.5],[8.61,38.4],[8.67,35.4],[8.72,26.2],[8.78,20.1],[8.84,17.1],[8.90,17.1],[8.95,14.0],[9.01,26.2],[9.07,35.4],[9.13,38.4],[9.19,41.5],[9.24,45.8],[9.30,53.7],[9.34,53.7],[9.38,59.8],[9.44,53.7],[9.49,56.7],[9.55,54.9],[9.61,53.7],[9.66,53.7],[9.72,44.5],[9.78,47.6],[9.84,44.5],[9.90,44.5],[9.95,44.5],[10.00,36.6]];

// Panel y-axis settings
const bxDomain = [-75, 60], bxMajor = [-60, -30, 0, 30, 60], bxMinorStep = 10;
const byDomain = [0, 90],   byMajor = [0, 20, 40, 60, 80],   byMinorStep = 5;
const bzDomain = [-80, 80], bzMajor = [-80, -40, 0, 40, 80], bzMinorStep = 10;
const vDomain = [-200, 200], vMajor = [-200, -100, 0, 100, 200], vMinorStep = 20;

// ---------------- drawing ----------------
const svg = d3.select("#chart");
const left = 244, right = 1305, panelH = 217;
const tops = [62.5, 282.5, 502.5, 721.5];
const frameColor = "#3c3c3c", tickColor = "#262626";

const x = d3.scaleLinear().domain([0, 10]).range([left, right]);

const panels = [
  { domain: bxDomain, major: bxMajor, step: bxMinorStep,
    series: [{ d: bx, c: "#1c1c1c", w: 1.5 }, { d: bxBaseline, c: "#2b3990", w: 2 }],
    name: "B", sub: "X", unit: "(nT)", nameX: 61 },
  { domain: byDomain, major: byMajor, step: byMinorStep,
    series: [{ d: by, c: "#1c1c1c", w: 1.5 }],
    name: "B", sub: "Y", unit: "(nT)", nameX: 59 },
  { domain: bzDomain, major: bzMajor, step: bzMinorStep,
    series: [{ d: bz, c: "#1c1c1c", w: 1.5 }],
    name: "B", sub: "Z", unit: "(nT)", nameX: 61 },
  { domain: vDomain, major: vMajor, step: vMinorStep,
    series: [{ d: vx, c: "#62b946", w: 1.7 }, { d: vz, c: "#5548a5", w: 1.7 }, { d: vy, c: "#ec2227", w: 1.7 }],
    name: "V", sub: "", unit: "(km/s)", nameX: 62 }
];

const nameBase = [132, 363, 585, 808];
const unitBase = [191, 422, 642, 869];
const unitCx = [90, 88, 90, 78];

const ys = [];

panels.forEach((p, i) => {
  const top = tops[i], bottom = top + panelH;
  const y = d3.scaleLinear().domain(p.domain).range([bottom, top]);
  ys.push(y);
  const g = svg.append("g");

  const clipId = "clip" + i;
  svg.append("clipPath").attr("id", clipId)
    .append("rect").attr("x", left).attr("y", top).attr("width", right - left).attr("height", panelH);

  // traces
  const line = d3.line().x(d => x(d[0])).y(d => y(d[1]));
  const tg = g.append("g").attr("clip-path", `url(#${clipId})`);
  p.series.forEach(s => {
    tg.append("path").attr("d", line(s.d))
      .attr("fill", "none").attr("stroke", s.c).attr("stroke-width", s.w)
      .attr("stroke-linejoin", "round");
  });

  // minor / major y ticks, both sides
  const minor = d3.range(Math.ceil(p.domain[0] / p.step) * p.step, p.domain[1] + 1e-9, p.step)
    .filter(v => !p.major.includes(v));
  const yt = g.append("g").attr("stroke", tickColor).attr("stroke-width", 1.6);
  minor.forEach(v => {
    yt.append("line").attr("x1", left).attr("x2", left + 10.5).attr("y1", y(v)).attr("y2", y(v));
    yt.append("line").attr("x1", right).attr("x2", right - 10.5).attr("y1", y(v)).attr("y2", y(v));
  });
  p.major.forEach(v => {
    yt.append("line").attr("x1", left).attr("x2", left + 21).attr("y1", y(v)).attr("y2", y(v));
    yt.append("line").attr("x1", right).attr("x2", right - 21).attr("y1", y(v)).attr("y2", y(v));
  });

  // time ticks on top and bottom edges
  timeMajor.forEach(t => {
    yt.append("line").attr("x1", x(t)).attr("x2", x(t)).attr("y1", top).attr("y2", top + 16);
    yt.append("line").attr("x1", x(t)).attr("x2", x(t)).attr("y1", bottom).attr("y2", bottom - 16);
  });
  timeMinor.forEach(t => {
    yt.append("line").attr("x1", x(t)).attr("x2", x(t)).attr("y1", top).attr("y2", top + 9);
    yt.append("line").attr("x1", x(t)).attr("x2", x(t)).attr("y1", bottom).attr("y2", bottom - 9);
  });

  // frame
  g.append("rect").attr("x", left).attr("y", top).attr("width", right - left).attr("height", panelH)
    .attr("fill", "none").attr("stroke", frameColor).attr("stroke-width", 2);

  // y tick labels (edge labels pulled inside the panel)
  p.major.forEach(v => {
    let cy = y(v);
    if (v === p.domain[1]) cy += 10;
    if (v === p.domain[0]) cy -= 11;
    g.append("text").attr("x", left - 8).attr("y", cy).attr("dy", "0.36em")
      .attr("text-anchor", "end").attr("font-size", 24).text(v);
  });

  // panel title
  const nt = svg.append("text").attr("x", p.nameX).attr("y", nameBase[i]).attr("font-size", 46);
  nt.append("tspan").text(p.name);
  if (p.sub) nt.append("tspan").attr("font-size", 30).attr("dy", 11).text(p.sub);
  svg.append("text").attr("x", unitCx[i]).attr("y", unitBase[i]).attr("text-anchor", "middle")
    .attr("font-size", 46).text(p.unit);
});

// time axis labels
timeMajor.forEach((t, k) => {
  svg.append("text").attr("x", x(t)).attr("y", 973).attr("text-anchor", "middle")
    .attr("font-size", 25).text(timeLabels[k]);
});
svg.append("text").attr("x", 88).attr("y", 971).attr("font-size", 25).text("hhmm");
svg.append("text").attr("x", 88).attr("y", 996).attr("font-size", 26).text("2010 Oct 06");

// title
svg.append("text").attr("x", 757).attr("y", 52).attr("text-anchor", "middle")
  .attr("font-size", 37).text("THEMIS-D");

// B_N reversal annotation with filled arrow
const bn = svg.append("text").attr("x", 925).attr("y", 35).attr("font-size", 37);
bn.append("tspan").text("B");
bn.append("tspan").attr("font-size", 25).attr("dy", 8).text("N");
bn.append("tspan").attr("dy", -8).text(" reversal");

function arrow(x0, y0, x1, y1, filled) {
  const ang = Math.atan2(y1 - y0, x1 - x0), L = filled ? 20 : 18, hw = filled ? 0.33 : 0.45;
  const a = [x1 - L * Math.cos(ang - hw), y1 - L * Math.sin(ang - hw)];
  const b = [x1 - L * Math.cos(ang + hw), y1 - L * Math.sin(ang + hw)];
  if (filled) {
    const mx = x1 - (L - 2) * Math.cos(ang), my = y1 - (L - 2) * Math.sin(ang);
    svg.append("line").attr("x1", x0).attr("y1", y0).attr("x2", mx).attr("y2", my)
      .attr("stroke", "#111").attr("stroke-width", 2);
    svg.append("path").attr("d", `M${x1},${y1}L${a[0]},${a[1]}L${b[0]},${b[1]}Z`).attr("fill", "#111");
  } else {
    svg.append("line").attr("x1", x0).attr("y1", y0).attr("x2", x1).attr("y2", y1)
      .attr("stroke", "#111").attr("stroke-width", 2);
    svg.append("path").attr("d", `M${a[0]},${a[1]}L${x1},${y1}L${b[0]},${b[1]}`)
      .attr("fill", "none").attr("stroke", "#111").attr("stroke-width", 2);
  }
}
arrow(931, 45, x(6.07), ys[0](15), true);

// jet reversal annotation
svg.append("text").attr("x", 485).attr("y", 760).attr("font-size", 37).text("Jet reversal");
arrow(x(4.19), ys[3](123), x(5.20), ys[3](74), false);

// Vz label
const vzl = svg.append("text").attr("x", x(4.34)).attr("y", ys[3](-126)).attr("font-size", 37)
  .style("fill", "#6c6cb4");
vzl.append("tspan").text("V");
vzl.append("tspan").attr("font-size", 25).attr("dy", 9).style("fill", "#6c6cb4").text("Z");
</script>
</body></html>
